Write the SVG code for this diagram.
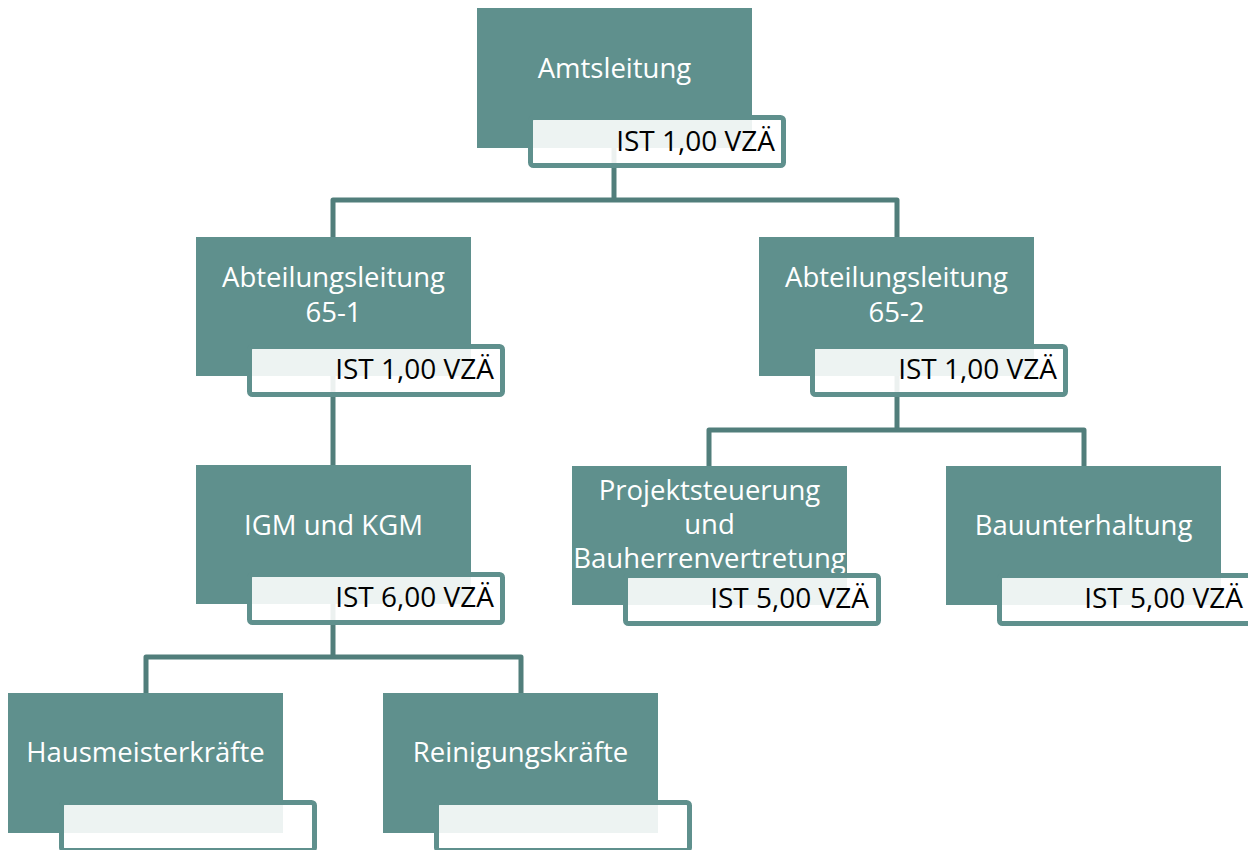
<svg xmlns="http://www.w3.org/2000/svg" width="1248" height="850" viewBox="0 0 1248 850">
<style>
.box{fill:#5f908d}
.lab{fill:#ffffff;fill-opacity:0.89;stroke:#5f908d;stroke-width:5}
.t{font-family:"Open Sans","DejaVu Sans",sans-serif;font-size:27.5px;fill:#ffffff;text-anchor:middle}
.v{font-family:"Open Sans","DejaVu Sans",sans-serif;font-size:28px;fill:#000000;text-anchor:end}
.c{fill:none;stroke:#517e7b;stroke-width:5;stroke-linejoin:round}
</style>
<rect width="1248" height="850" fill="#ffffff"/>
<g id="connectors">
<path class="c" d="M614,148 V200"/>
<path class="c" d="M333,237 V200 H897 V237"/>
<path class="c" d="M333,376 V465"/>
<path class="c" d="M897,376 V430"/>
<path class="c" d="M709,466 V430 H1084 V466"/>
<path class="c" d="M333,604 V657"/>
<path class="c" d="M146,693 V657 H521 V693"/>
</g>
<g id="amtsleitung">
<rect class="box" x="477" y="8" width="275" height="140"/>
<text class="t" x="614.5" y="78">Amtsleitung</text>
<rect class="lab" x="530.5" y="117.5" width="253" height="48" rx="3"/>
<text class="v" x="775" y="151">IST 1,00 VZÄ</text>
</g>
<g id="abteilung-65-1">
<rect class="box" x="196" y="237" width="275" height="139"/>
<text class="t" x="333.5" y="287">Abteilungsleitung</text>
<text class="t" x="333.5" y="322">65-1</text>
<rect class="lab" x="249.5" y="346.5" width="253" height="48" rx="3"/>
<text class="v" x="494" y="379">IST 1,00 VZÄ</text>
</g>
<g id="abteilung-65-2">
<rect class="box" x="759" y="237" width="275" height="139"/>
<text class="t" x="896.5" y="287">Abteilungsleitung</text>
<text class="t" x="896.5" y="322">65-2</text>
<rect class="lab" x="812.5" y="346.5" width="253" height="48" rx="3"/>
<text class="v" x="1057" y="379">IST 1,00 VZÄ</text>
</g>
<g id="igm-kgm">
<rect class="box" x="196" y="465" width="275" height="139"/>
<text class="t" x="333.5" y="535">IGM und KGM</text>
<rect class="lab" x="249.5" y="574.5" width="253" height="48" rx="3"/>
<text class="v" x="494" y="607">IST 6,00 VZÄ</text>
</g>
<g id="projektsteuerung">
<rect class="box" x="572" y="466" width="275" height="139"/>
<text class="t" x="709.5" y="500">Projektsteuerung</text>
<text class="t" x="709.5" y="534">und</text>
<text class="t" x="709.5" y="568">Bauherrenvertretung</text>
<rect class="lab" x="625.5" y="575.5" width="253" height="48" rx="3"/>
<text class="v" x="869" y="608">IST 5,00 VZÄ</text>
</g>
<g id="bauunterhaltung">
<rect class="box" x="946" y="466" width="275" height="139"/>
<text class="t" x="1083.5" y="535">Bauunterhaltung</text>
<rect class="lab" x="999.5" y="575.5" width="253" height="48" rx="3"/>
<text class="v" x="1243" y="608">IST 5,00 VZÄ</text>
</g>
<g id="hausmeisterkraefte">
<rect class="box" x="8" y="693" width="275" height="140"/>
<text class="t" x="145.5" y="762">Hausmeisterkräfte</text>
<rect class="lab" x="61.5" y="802.5" width="253" height="48" rx="3"/>
</g>
<g id="reinigungskraefte">
<rect class="box" x="383" y="693" width="275" height="140"/>
<text class="t" x="520.5" y="762">Reinigungskräfte</text>
<rect class="lab" x="436.5" y="802.5" width="253" height="48" rx="3"/>
</g>
</svg>
